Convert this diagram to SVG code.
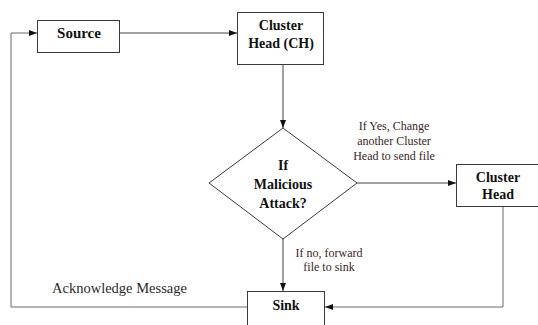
<svg xmlns="http://www.w3.org/2000/svg" width="538" height="325" viewBox="0 0 538 325">
<style>
.box{fill:#fff;stroke:#3a3a3a;stroke-width:1}
.ln{fill:none;stroke:#444;stroke-width:1}
.lp{fill:none;stroke:#6a6a6a;stroke-width:1}
.bt{font-weight:bold;font-size:14px;fill:#111;text-anchor:middle}
.lb{font-size:12px;fill:#3a2626;text-anchor:middle}
.ak{font-size:14.5px;fill:#2a2a2a}
</style>
<defs>
<marker id="ah" markerWidth="8" markerHeight="6" refX="8" refY="3" orient="auto" markerUnits="userSpaceOnUse">
<path d="M0,0 L8,3 L0,6 Z" fill="#111"/>
</marker>
</defs>
<rect width="538" height="325" fill="#fff"/>
<g font-family="Liberation Serif, Times New Roman, DejaVu Serif, serif">
<g id="connectors">
<path class="ln" d="M120,33 H237" marker-end="url(#ah)"/>
<path class="ln" d="M283,65 V128" marker-end="url(#ah)"/>
<path class="ln" d="M357,183 H456" marker-end="url(#ah)"/>
<path class="ln" d="M283,239 V291" marker-end="url(#ah)"/>
<path class="lp" d="M503,207 V307 H325" marker-end="url(#ah)"/>
<path class="lp" d="M247,307 H11 V33 H37" marker-end="url(#ah)"/>
<text class="lb" x="394" y="130">If Yes, Change</text>
<text class="lb" x="394" y="145">another Cluster</text>
<text class="lb" x="394" y="160">Head to send file</text>
<text class="lb" x="329" y="257">If no, forward</text>
<text class="lb" x="329" y="271">file to sink</text>
<text class="ak" x="52" y="293">Acknowledge Message</text>
</g>
<g id="source">
<rect class="box" x="37.5" y="20.5" width="82" height="32"/>
<text class="bt" x="79" y="38" style="font-size:15px">Source</text>
</g>
<g id="cluster-head-ch">
<rect class="box" x="237.5" y="12.5" width="86" height="52"/>
<text class="bt" x="281" y="30">Cluster</text>
<text class="bt" x="281" y="48">Head (CH)</text>
</g>
<g id="decision">
<polygon class="box" points="283,128 357,183 283,239 209,183"/>
<text class="bt" x="283" y="170">If</text>
<text class="bt" x="283" y="189">Malicious</text>
<text class="bt" x="283" y="208">Attack?</text>
</g>
<g id="cluster-head-2">
<rect class="box" x="456.5" y="164.5" width="82" height="42"/>
<text class="bt" x="498" y="182">Cluster</text>
<text class="bt" x="498" y="199">Head</text>
</g>
<g id="sink">
<rect class="box" x="247.5" y="291.5" width="77" height="40"/>
<text class="bt" x="286" y="310">Sink</text>
</g>
</g>
</svg>
